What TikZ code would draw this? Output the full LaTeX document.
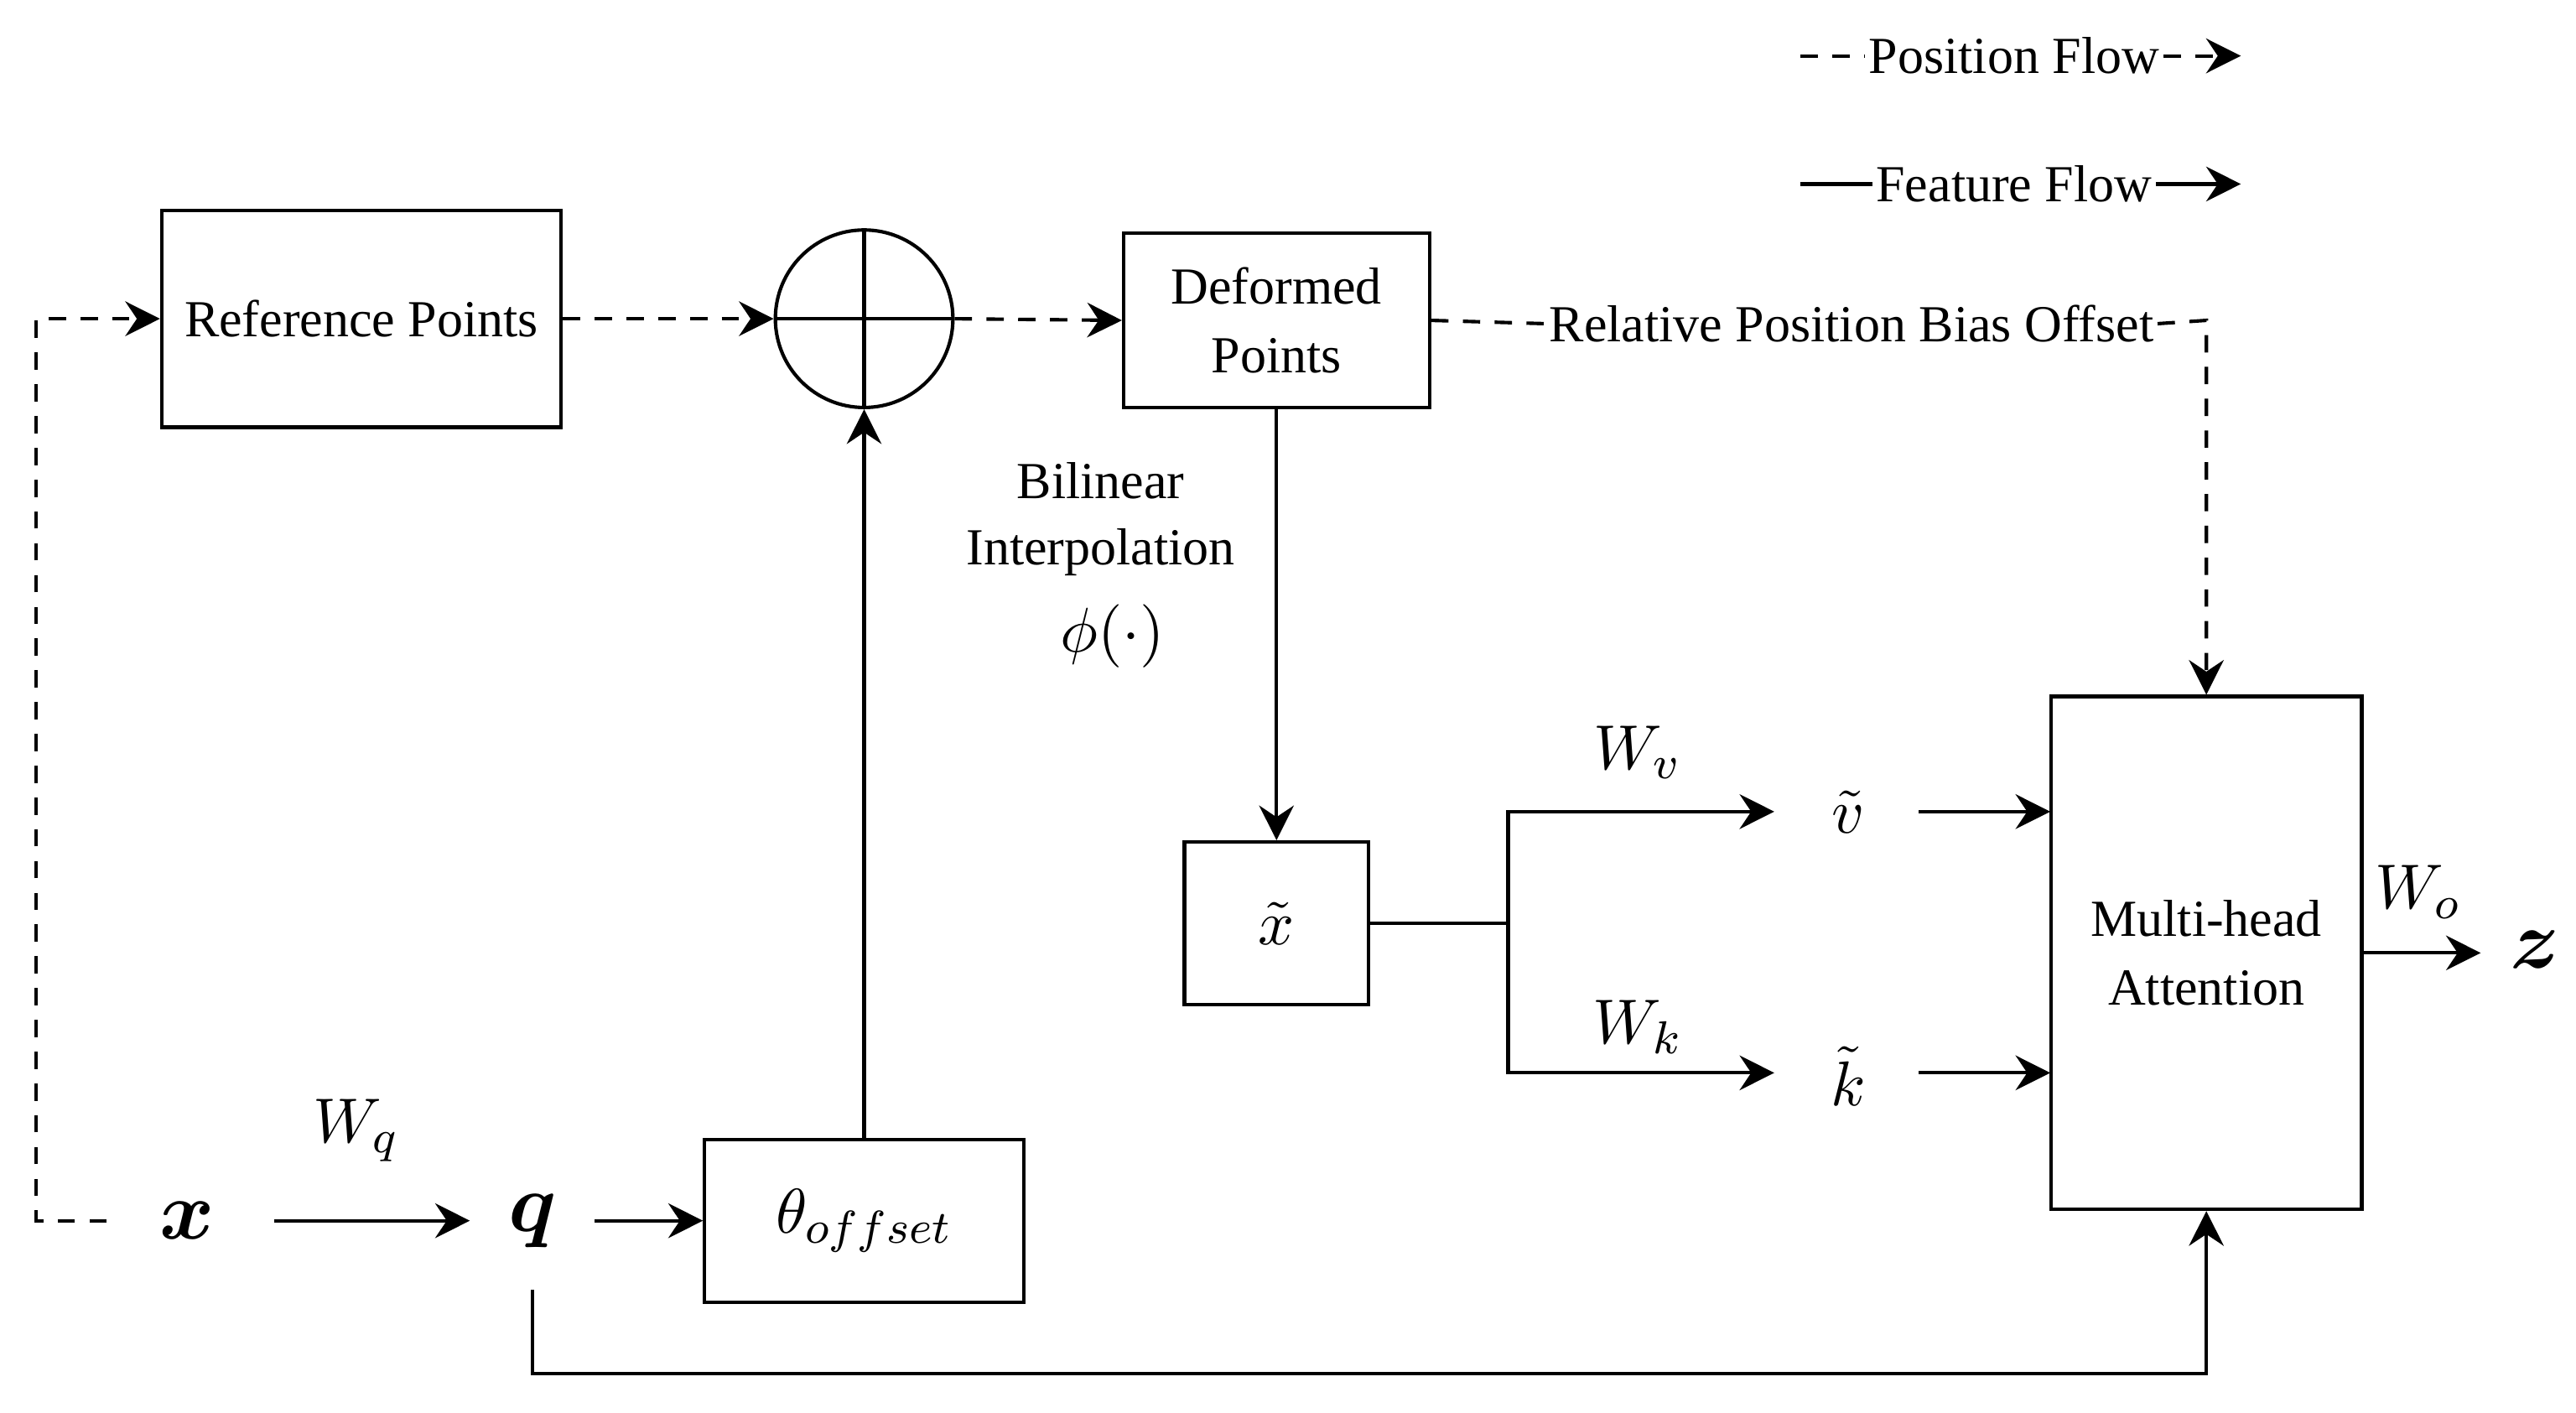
\documentclass[tikz,border=0pt]{standalone}
\usepackage{fontspec}
\setmainfont{Liberation Serif}
\usepackage{bm}
\usetikzlibrary{arrows.meta}
\begin{document}
\begin{tikzpicture}[x=0.01cm,y=-0.01cm,
  every node/.style={font=\fontsize{9}{12}\selectfont},
  box/.style={draw,line width=0.6pt,inner sep=0pt},
  ln/.style={line width=0.6pt},
  fa/.style={ln,-{Stealth[length=6pt,width=6pt,inset=2pt]}},
  da/.style={ln,dashed,dash pattern=on 3pt off 2.5pt,-{Stealth[length=6pt,width=6pt,inset=2pt]}},
  dl/.style={ln,dashed,dash pattern=on 3pt off 2.5pt},
  m/.style={font=\fontsize{11}{12}\selectfont},
  big/.style={font=\fontsize{15}{16}\selectfont}]
\useasboundingbox (0,0) rectangle (1568,860);
% legend
\node[inner sep=0.5pt] (pf) at (1226,34) {Position Flow};
\coordinate (pf0) at (1096,34); \coordinate (pf1) at (1364,34);
\draw[dl] (pf0) -- (pf.west); \draw[da] (pf.east) -- (pf1);
\node[inner sep=0.5pt] (ff) at (1226,112) {Feature Flow};
\coordinate (ff0) at (1096,112); \coordinate (ff1) at (1364,112);
\draw[ln] (ff0) -- (ff.west); \draw[fa] (ff.east) -- (ff1);
% boxes
\node[box,align=center,minimum width=2.43cm,minimum height=1.32cm] (ref) at (220,194) {Reference Points};
\node[draw,circle,ln,minimum size=1.08cm,inner sep=0pt] (plus) at (526,194) {};
\draw[ln] (plus.north) -- (plus.south) (plus.west) -- (plus.east);
\node[box,align=center,minimum width=1.86cm,minimum height=1.06cm,font=\fontsize{9}{12}\selectfont] (def) at (777,195) {Deformed\\Points};
\node[box,minimum width=1.89cm,minimum height=3.12cm,align=center,font=\fontsize{9}{12}\selectfont] (mha) at (1343,580) {Multi-head\\Attention};
\node[box,minimum width=1.12cm,minimum height=0.99cm,m] (xt) at (777,562) {$\tilde{x}$};
\node[box,minimum width=1.94cm,minimum height=0.99cm,m] (th) at (526,743) {$\theta_{offset}$};
\node[align=center,font=\fontsize{9}{11.5}\selectfont,inner sep=0pt] (bil) at (670,316) {Bilinear\\Interpolation};
\node[m] (phi) at (677,387) {$\phi(\cdot)$};
% math labels
\node[big] (x) at (114,743) {$\bm{x}$};
\node[big] (q) at (324,743) {$\bm{q}$};
\node[m] (wq) at (217,688) {$W_q$};
\node[m] (vt) at (1125,494) {$\tilde{v}$};
\node[m] (kt) at (1125,655) {$\tilde{k}$};
\node[m] (wv) at (997,458) {$W_v$};
\node[m] (wk) at (997,625) {$W_k$};
\node[m] (wo) at (1472,543) {$W_o$};
\node[big] (z) at (1543,578) {$\bm{z}$};
\node[inner sep=0.5pt] (rpb) at (1127,197) {Relative Position Bias Offset};
% position flow
\draw[da] (ref.east) -- (plus.west);
\draw[da] (plus.east) -- (def.west);
\draw[dl] (def.east) -- (rpb.west);
\coordinate (c1) at (1343,195);
\draw[da] (rpb.east) -- (c1) -- (mha.north);
\coordinate (xl) at (65,743); \coordinate (c2) at (22,743); \coordinate (c3) at (22,194);
\draw[da] (xl) -- (c2) -- (c3) -- (ref.west);
% feature flow
\draw[fa] (def.south) -- (xt.north);
\draw[fa] (th.north) -- (plus.south);
\coordinate (a0) at (167,743); \coordinate (a1) at (286,743);
\draw[fa] (a0) -- (a1);
\coordinate (b0) at (362,743); \draw[fa] (b0) -- (th.west);
\coordinate (s) at (918,562); \coordinate (sv) at (918,494); \coordinate (sk) at (918,653);
\coordinate (ev) at (1080,494); \coordinate (ek) at (1080,653);
\draw[ln] (xt.east) -- (s);
\draw[fa] (s) -- (sv) -- (ev);
\draw[fa] (s) -- (sk) -- (ek);
\coordinate (v0) at (1168,494); \coordinate (v1) at (1248,494);
\coordinate (k0) at (1168,653); \coordinate (k1) at (1248,653);
\draw[fa] (v0) -- (v1); \draw[fa] (k0) -- (k1);
\coordinate (o1) at (1510,580); \draw[fa] (mha.east |- o1) -- (o1);
\coordinate (q0) at (324,785); \coordinate (q1) at (324,836); \coordinate (q2) at (1343,836);
\draw[fa] (q0) -- (q1) -- (q2) -- (mha.south);
\end{tikzpicture}
\end{document}
